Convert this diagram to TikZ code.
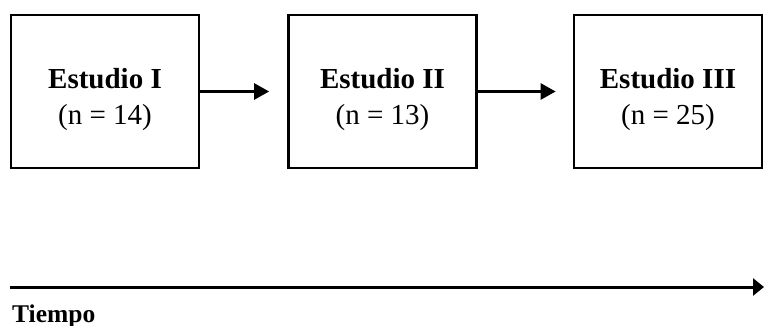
\documentclass[tikz,border=0pt]{standalone}
\usepackage{fontspec}
\setmainfont{Liberation Serif}
\usetikzlibrary{arrows.meta}
\begin{document}
\begin{tikzpicture}[x=1pt,y=-1pt,
  studybox/.style={draw,line width=2.7pt,minimum width=188pt,minimum height=153pt,inner sep=0pt},
  studytext/.style={inner sep=0pt,align=center,font=\fontsize{29}{36}\selectfont},
  flow/.style={line width=2.7pt,-{Triangle[length=15pt,width=16pt]}}]
\useasboundingbox (0,0) rectangle (764,326);
\node[studybox] (s1) at (105,91.5) {};
\node[studybox] (s2) at (382.5,91.5) {};
\node[studybox] (s3) at (668,91.5) {};
\node[studytext] (s1t) at ([yshift=-8pt]s1.center) {\textbf{Estudio I}\\(n = 14)};
\node[studytext] (s2t) at ([yshift=-8pt]s2.center) {\textbf{Estudio II}\\(n = 13)};
\node[studytext] (s3t) at ([yshift=-8pt]s3.center) {\textbf{Estudio III}\\(n = 25)};
\draw[flow] (s1.east) -- ([xshift=-18pt]s2.west);
\draw[flow] (s2.east) -- ([xshift=-17pt]s3.west);
\coordinate (t0) at (10,287);
\coordinate (t1) at (764,287);
\draw[line width=3pt,-{Triangle[length=11pt,width=17pt]}] (t0) -- (t1);
\node[anchor=base west,inner sep=0pt,font=\fontsize{25.5}{30}\selectfont\bfseries] (tiempo) at (12,322) {Tiempo};
\end{tikzpicture}
\end{document}
